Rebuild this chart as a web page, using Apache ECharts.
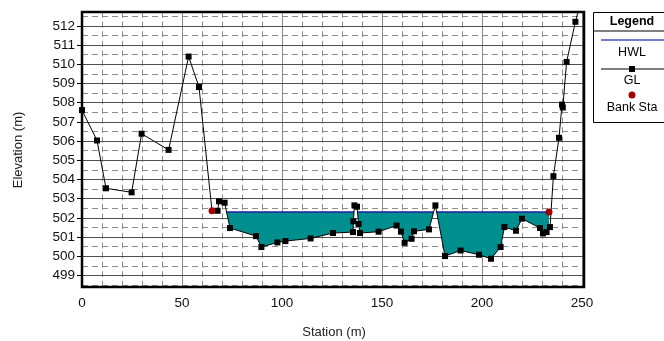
<!DOCTYPE html>
<html>
<head>
<meta charset="utf-8">
<script src="https://cdn.jsdelivr.net/npm/echarts@6/dist/echarts.min.js"></script>
<style>html,body{margin:0;padding:0;background:#fff;}#c{width:664px;height:341px;}</style>
</head>
<body>
<div id="c"></div>
<script>
// ---- data ----
const stations = [0,7.5,12,24.8,29.8,43.3,53.3,58.5,65,67.8,68.5,71.3,74,87,89.7,97.7,101.7,114.3,125.5,135.5,135.7,136.2,137.5,138.3,139,148.3,157.3,159.5,161.3,164.8,166,173.5,176.7,181.5,189.3,198.5,204.5,209.3,211.2,217,220,229,230.5,232.3,234,235.7,238.5,240,240.4,242.3,246.7,249.5];
const elevations = [507.61,506.03,503.54,503.33,506.38,505.54,510.4,508.81,502.37,502.37,502.86,502.79,501.47,501.05,500.48,500.72,500.79,500.93,501.21,501.26,501.82,502.65,502.58,501.68,501.21,501.28,501.6,501.28,500.7,500.91,501.3,501.4,502.65,500.01,500.3,500.08,499.87,500.48,501.52,501.33,501.96,501.47,501.19,501.26,501.52,504.17,506.17,507.9,507.75,510.12,512.21,513.3];
const bankStations = [65, 233.5];
const bankElevations = [502.37, 502.3];
const hwl = 502.3;
const xTicks = [0,50,100,150,200,250];
const yTicks = [499,500,501,502,503,504,505,506,507,508,509,510,511,512];

const GL = stations.map((s,i)=>[s, elevations[i]]);
const BANK = bankStations.map((s,i)=>[s, bankElevations[i]]);

// ground profile clipped to the bank stations, with crossings of the water level
function interp(x){
  for(let i=0;i<GL.length-1;i++){
    const a=GL[i], b=GL[i+1];
    if(x>=a[0] && x<=b[0]){ if(b[0]===a[0]) return a[1]; return a[1]+(b[1]-a[1])*(x-a[0])/(b[0]-a[0]); }
  }
  return GL[GL.length-1][1];
}
const bL = bankStations[0], bR = bankStations[1];
const P = [[bL, interp(bL)]];
GL.forEach(p=>{ if(p[0]>bL && p[0]<bR) P.push(p); });
P.push([bR, interp(bR)]);
const Q = [];
for(let i=0;i<P.length;i++){
  Q.push(P[i]);
  if(i<P.length-1){
    const a=P[i], b=P[i+1];
    if((a[1]-hwl)*(b[1]-hwl)<0){
      const t=(hwl-a[1])/(b[1]-a[1]);
      Q.push([a[0]+t*(b[0]-a[0]), hwl]);
    }
  }
}
const runs = [];
let cur = null;
for(let j=0;j<Q.length-1;j++){
  const a=Q[j], b=Q[j+1];
  const wet = Math.max(a[1],b[1]) <= hwl+1e-9 && Math.min(a[1],b[1]) < hwl-1e-9;
  if(wet){ if(!cur){ cur=[a]; } cur.push(b); }
  else if(cur){ runs.push(cur); cur=null; }
}
if(cur) runs.push(cur);

const gridLines = [];
for(let v=499; v<=512; v++) gridLines.push({yAxis:v, lineStyle:{color:'#505050', width:1, type:'solid'}});
for(let v=498.5; v<=512.5; v++) gridLines.push({yAxis:v, lineStyle:{color:'#8c8c8c', width:1, type:[6,4]}});

const font = 'Liberation Sans, Arial, sans-serif';

const glData = GL.map(p => bankStations.indexOf(p[0]) >= 0 ? {value:p, symbol:'none'} : p);

const series = [
  {
    type:'line', name:'grid', data:[[0,499]], showSymbol:false, symbol:'none', silent:true, z:1,
    lineStyle:{width:0},
    markLine:{silent:true, symbol:'none', z:1, label:{show:false}, animation:false, data:gridLines}
  },
  {
    type:'custom', name:'water', z:3, silent:true,
    data: runs.map((r,i)=>[r[0][0], hwl, i]),
    encode:{x:0, y:1},
    renderItem:function(params, api){
      const r = runs[api.value(2)];
      const pts = [api.coord([r[0][0], hwl])];
      r.forEach(p=>pts.push(api.coord(p)));
      pts.push(api.coord([r[r.length-1][0], hwl]));
      return {type:'polygon', shape:{points:pts}, style:{fill:'#008f8f', stroke:null}};
    }
  }
];
runs.forEach(r=>{
  series.push({type:'line', name:'HWL', z:4, symbol:'none', silent:true,
    data:[[r[0][0], hwl],[r[r.length-1][0], hwl]],
    lineStyle:{color:'#1c1ca0', width:1.5}});
});
series.push({
  type:'line', name:'GL', z:5, data:glData, symbol:'rect', symbolSize:6, showAllSymbol:true,
  itemStyle:{color:'#000'}, lineStyle:{color:'#000', width:1}, silent:true
});
series.push({
  type:'scatter', name:'Bank Sta', z:10, data:BANK, symbol:'circle', symbolSize:7,
  itemStyle:{color:'#a00000', opacity:1}, silent:true
});

const chart = echarts.init(document.getElementById('c'), null, {renderer:'canvas'});
chart.setOption({
  animation:false,
  backgroundColor:'#fff',
  grid:{left:82, right:80, top:12, bottom:54, show:false},
  xAxis:{
    type:'value', min:0, max:251, interval:50,
    axisLine:{show:false}, axisTick:{show:false},
    axisLabel:{fontFamily:font, fontSize:13.5, color:'#111', margin:9,
      customValues:xTicks, formatter:v=> (v%50===0 ? String(v) : '')},
    splitLine:{show:true, lineStyle:{color:'#8c8c8c', width:1}},
    minorTick:{show:false, splitNumber:5},
    minorSplitLine:{show:true, lineStyle:{color:'#8c8c8c', width:1, type:[6,3.6]}}
  },
  yAxis:{
    type:'value', min:498.4, max:512.72,
    axisLine:{show:false},
    axisTick:{show:true, length:5, customValues:yTicks, lineStyle:{color:'#000'}},
    axisLabel:{fontFamily:font, fontSize:13.5, color:'#111', margin:7, customValues:yTicks},
    splitLine:{show:false}
  },
  series:series,
  graphic:[
    {type:'rect', z:100, silent:true, shape:{x:82, y:12, width:502, height:275}, style:{fill:null, stroke:'#000', lineWidth:2.5}},
    {type:'text', z:100, silent:true, x:18, y:150, rotation:Math.PI/2, style:{text:'Elevation (m)', font:'13px '+font, fill:'#222', textAlign:'center', textVerticalAlign:'middle'}},
    {type:'text', z:100, silent:true, x:334, y:332, style:{text:'Station (m)', font:'13px '+font, fill:'#222', textAlign:'center', textVerticalAlign:'middle'}},
    {type:'rect', z:100, silent:true, shape:{x:593.5, y:12.5, width:80, height:110}, style:{fill:'#fff', stroke:'#000', lineWidth:1}},
    {type:'line', z:101, silent:true, shape:{x1:593.5, y1:31, x2:664, y2:31}, style:{stroke:'#000', lineWidth:1}},
    {type:'text', z:101, silent:true, x:632, y:22, style:{text:'Legend', font:'bold 12.5px '+font, fill:'#000', textAlign:'center', textVerticalAlign:'middle'}},
    {type:'line', z:101, silent:true, shape:{x1:601, y1:40, x2:664, y2:40}, style:{stroke:'#4050c0', lineWidth:1.5}},
    {type:'text', z:101, silent:true, x:632, y:53, style:{text:'HWL', font:'12.5px '+font, fill:'#000', textAlign:'center', textVerticalAlign:'middle'}},
    {type:'line', z:101, silent:true, shape:{x1:601, y1:69, x2:664, y2:69}, style:{stroke:'#000', lineWidth:1}},
    {type:'rect', z:102, silent:true, shape:{x:629, y:66, width:6, height:6}, style:{fill:'#000'}},
    {type:'text', z:101, silent:true, x:632, y:81, style:{text:'GL', font:'12.5px '+font, fill:'#000', textAlign:'center', textVerticalAlign:'middle'}},
    {type:'circle', z:101, silent:true, shape:{cx:632, cy:95, r:3.5}, style:{fill:'#a00000'}},
    {type:'text', z:101, silent:true, x:632, y:108, style:{text:'Bank Sta', font:'12.5px '+font, fill:'#000', textAlign:'center', textVerticalAlign:'middle'}}
  ]
});
</script>
</body>
</html>
